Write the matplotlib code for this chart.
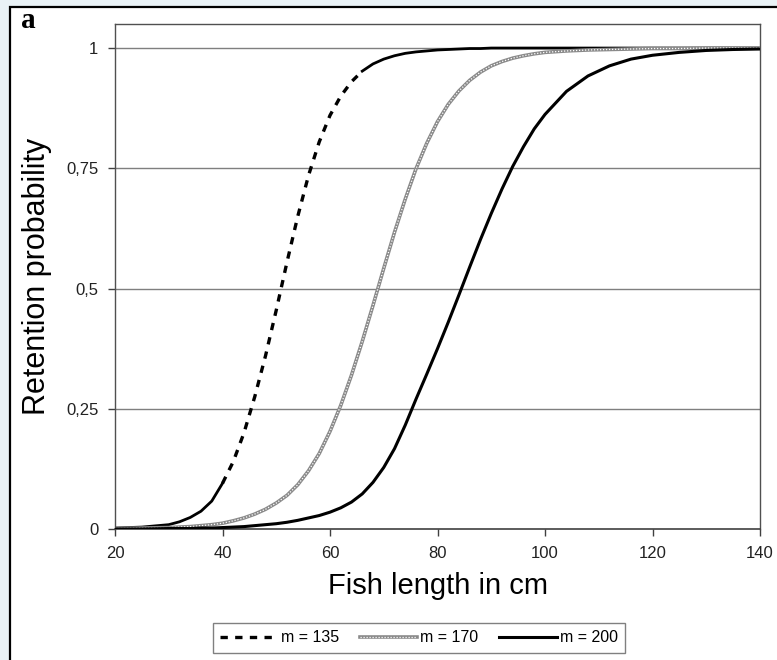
#!/usr/bin/env python3
"""Retention probability vs fish length for three mesh sizes (panel a)."""

import matplotlib

matplotlib.use("Agg")
import matplotlib.pyplot as plt
from matplotlib.patches import Rectangle
import numpy as np

# --- data ---
length_cm = [20, 25, 30, 32, 34, 36, 38, 40, 42, 44, 46, 48, 50, 52, 54, 56, 58, 60,
             62, 64, 66, 68, 70, 72, 74, 76, 78, 80, 82, 84, 86, 88, 90, 92, 94, 96,
             98, 100, 104, 108, 112, 116, 120, 125, 130, 135, 140]

ret_m135 = [0.002, 0.004, 0.009, 0.015, 0.024, 0.037, 0.058, 0.095, 0.14, 0.20,
            0.275, 0.36, 0.455, 0.555, 0.65, 0.735, 0.805, 0.86, 0.90, 0.93, 0.952,
            0.967, 0.977, 0.984, 0.989, 0.992, 0.994, 0.996, 0.997, 0.998, 0.999,
            0.999, 1.0, 1.0, 1.0, 1.0, 1.0, 1.0, 1.0, 1.0, 1.0, 1.0, 1.0, 1.0, 1.0,
            1.0, 1.0]

ret_m170 = [0.001, 0.002, 0.003, 0.004, 0.005, 0.007, 0.009, 0.012, 0.017, 0.023,
            0.031, 0.041, 0.054, 0.07, 0.092, 0.121, 0.157, 0.203, 0.257, 0.32, 0.39,
            0.465, 0.542, 0.617, 0.686, 0.749, 0.802, 0.847, 0.883, 0.911, 0.933,
            0.95, 0.963, 0.972, 0.979, 0.984, 0.988, 0.991, 0.994, 0.996, 0.997,
            0.998, 0.999, 0.999, 1.0, 1.0, 1.0]

ret_m200 = [0.0, 0.0, 0.001, 0.001, 0.001, 0.002, 0.002, 0.003, 0.004, 0.005, 0.007,
            0.009, 0.011, 0.014, 0.018, 0.023, 0.028, 0.035, 0.044, 0.056, 0.073,
            0.097, 0.128, 0.167, 0.216, 0.27, 0.322, 0.375, 0.43, 0.487, 0.545, 0.602,
            0.656, 0.707, 0.754, 0.795, 0.832, 0.862, 0.91, 0.942, 0.963, 0.977,
            0.985, 0.991, 0.995, 0.997, 0.998]

series_labels = ["m = 135", "m = 170", "m = 200"]
x_ticks = [20, 40, 60, 80, 100, 120, 140]
y_ticks = [0, 0.25, 0.5, 0.75, 1]
y_tick_labels = ["0", "0,25", "0,5", "0,75", "1"]

plt.rcParams["font.family"] = ["Liberation Sans", "DejaVu Sans"]

W, H = 777, 660
fig = plt.figure(figsize=(W / 100, H / 100), dpi=100, facecolor="#e9f2f6")

# white panel with black border on left/top
panel = Rectangle((10 / W, -0.02), 1.1, 1.02 - 7 / H, transform=fig.transFigure,
                  facecolor="white", edgecolor="black", linewidth=1.6, zorder=-10)
fig.patches.append(panel)
fig.text(21 / W, 1 - 20 / H, "a", family=["Liberation Serif", "DejaVu Serif"],
         fontweight="bold", fontsize=21, va="center", ha="left")

ax = fig.add_axes([115 / W, 1 - 529 / H, (760 - 115) / W, (529 - 24) / H])
ax.set_facecolor("white")
ax.set_xlim(20, 140)
ax.set_ylim(0, 1.05)

for y in y_ticks[1:]:
    ax.axhline(y, color="#7f7f7f", linewidth=1.0, zorder=1)

x = np.array(length_cm)
y135 = np.array(ret_m135)

# dashed curve renders solid where points are dense (Excel style)
low = x <= 40
mid = (x >= 40) & (x <= 66)
high = x >= 66
ax.plot(x[low], y135[low], color="black", linewidth=2.0, zorder=3)
dash_line, = ax.plot(x[mid], y135[mid], color="black", linewidth=2.4,
                     linestyle=(0, (2.2, 2.2)), zorder=3)
ax.plot(x[high], y135[high], color="black", linewidth=2.0, zorder=3)

gray_base, = ax.plot(x, ret_m170, color="#8a8a8a", linewidth=2.6, zorder=3)
gray_dots, = ax.plot(x, ret_m170, color="white", linewidth=0.9,
                     linestyle=(0, (1, 1.4)), zorder=4)

solid_line, = ax.plot(x, ret_m200, color="black", linewidth=2.2, zorder=5)

ax.set_xticks(x_ticks)
ax.set_yticks(y_ticks)
ax.set_yticklabels(y_tick_labels)
ax.tick_params(axis="both", direction="out", length=5, width=1, color="#404040",
               labelsize=12, labelcolor="#222222", pad=7)

for side in ["top", "right", "left"]:
    ax.spines[side].set_color("#505050")
    ax.spines[side].set_linewidth(1.0)
ax.spines["bottom"].set_color("#404040")
ax.spines["bottom"].set_linewidth(1.2)

ax.set_xlabel("Fish length in cm", fontsize=21, labelpad=8)
ax.set_ylabel("Retention probability", fontsize=22, labelpad=10)

fig.legend([dash_line, (gray_base, gray_dots), solid_line], series_labels,
           loc="center", bbox_to_anchor=(419 / W, 1 - 638 / H), ncol=3,
           frameon=True, fancybox=False, edgecolor="#808080", framealpha=1,
           fontsize=11.5, handlelength=3.6, handletextpad=0.2, columnspacing=1.3,
           borderpad=0.45)

fig.savefig("out.png", dpi=100, facecolor=fig.get_facecolor())
